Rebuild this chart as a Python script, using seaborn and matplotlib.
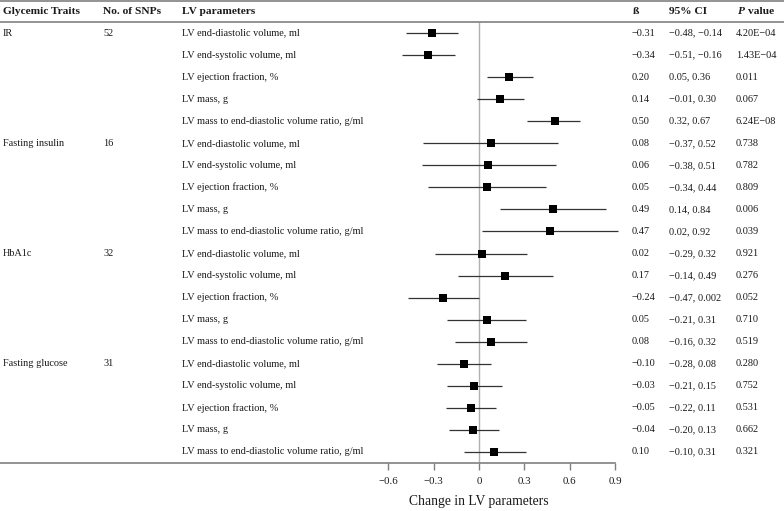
import seaborn as sns
import matplotlib.pyplot as plt
import pandas as pd

# data
traits = ['IR', 'Fasting insulin', 'HbA1c', 'Fasting glucose']
n_snps = ['52', '16', '32', '31']
lv_params = ['LV end-diastolic volume, ml',
             'LV end-systolic volume, ml',
             'LV ejection fraction, %',
             'LV mass, g',
             'LV mass to end-diastolic volume ratio, g/ml']

beta = [-0.31, -0.34, 0.20, 0.14, 0.50,
        0.08, 0.06, 0.05, 0.49, 0.47,
        0.02, 0.17, -0.24, 0.05, 0.08,
        -0.10, -0.03, -0.05, -0.04, 0.10]
ci_low = [-0.48, -0.51, 0.05, -0.01, 0.32,
          -0.37, -0.38, -0.34, 0.14, 0.02,
          -0.29, -0.14, -0.47, -0.21, -0.16,
          -0.28, -0.21, -0.22, -0.20, -0.10]
ci_high = [-0.14, -0.16, 0.36, 0.30, 0.67,
           0.52, 0.51, 0.44, 0.84, 0.92,
           0.32, 0.49, 0.002, 0.31, 0.32,
           0.08, 0.15, 0.11, 0.13, 0.31]
beta_txt = ['−0.31', '−0.34', '0.20', '0.14', '0.50',
            '0.08', '0.06', '0.05', '0.49', '0.47',
            '0.02', '0.17', '−0.24', '0.05', '0.08',
            '−0.10', '−0.03', '−0.05', '−0.04', '0.10']
ci_txt = ['−0.48, −0.14', '−0.51, −0.16', '0.05, 0.36', '−0.01, 0.30', '0.32, 0.67',
          '−0.37, 0.52', '−0.38, 0.51', '−0.34, 0.44', '0.14, 0.84', '0.02, 0.92',
          '−0.29, 0.32', '−0.14, 0.49', '−0.47, 0.002', '−0.21, 0.31', '−0.16, 0.32',
          '−0.28, 0.08', '−0.21, 0.15', '−0.22, 0.11', '−0.20, 0.13', '−0.10, 0.31']
p_txt = ['4.20E−04', '1.43E−04', '0.011', '0.067', '6.24E−08',
         '0.738', '0.782', '0.809', '0.006', '0.039',
         '0.921', '0.276', '0.052', '0.710', '0.519',
         '0.280', '0.752', '0.531', '0.662', '0.321']
xticks = [-0.6, -0.3, 0, 0.3, 0.6, 0.9]
xtick_labels = ['−0.6', '−0.3', '0', '0.3', '0.6', '0.9']

df = pd.DataFrame({
    'row': range(len(beta)),
    'beta': beta, 'lo': ci_low, 'hi': ci_high,
})

sns.set_theme(style='white')
plt.rcParams['font.family'] = ['Liberation Serif', 'DejaVu Serif']

W, H = 784, 511
fig = plt.figure(figsize=(W / 100, H / 100), dpi=100)
ax = fig.add_axes([0, 48 / H, 1, 463 / H])

px_unit = 151.3
zero_px = 479
ax.set_xlim(-zero_px / px_unit, (W - zero_px) / px_unit)
ax.set_ylim(19.5, -1.5)

txt_col = '#1a1a1a'
line_col = '#808080'

# zero line
ax.vlines(0, -0.5, 19.5, color='#b0b0b0', lw=1.0, zorder=1)
# CIs and estimates
ax.hlines(df['row'], df['lo'], df['hi'], color='#333333', lw=0.9, zorder=2)
sns.scatterplot(data=df, x='beta', y='row', marker='s', s=26, color='black',
                edgecolor='black', linewidth=0, ax=ax, zorder=3, legend=False)

# table rules
ax.hlines([-1.45, -0.5], ax.get_xlim()[0], ax.get_xlim()[1], color=line_col, lw=1.2,
          clip_on=False)

for s in ['top', 'right', 'left']:
    ax.spines[s].set_visible(False)
ax.spines['bottom'].set_color(line_col)
ax.spines['bottom'].set_linewidth(1.2)
ax.spines['bottom'].set_bounds(ax.get_xlim()[0], 0.9)
ax.set_xticks(xticks)
ax.set_xticklabels(xtick_labels, fontsize=7.8, color=txt_col)
ax.tick_params(axis='x', direction='out', length=5, width=1, color=line_col,
               pad=5, bottom=True)
ax.set_yticks([])
ax.set_xlabel('')
ax.set_ylabel('')

trans = ax.get_yaxis_transform()
fs = 7.4
hy = -0.97
hdr = dict(fontsize=8.2, fontweight='bold', va='center', ha='left', color=txt_col,
           transform=trans)
ax.text(3 / W, hy, 'Glycemic Traits', **hdr)
ax.text(103 / W, hy, 'No. of SNPs', **hdr)
ax.text(182 / W, hy, 'LV parameters', **hdr)
ax.text(633 / W, hy, 'ß', **hdr)
ax.text(669 / W, hy, '95% CI', **hdr)
ax.text(738 / W, hy, 'P', style='italic', **hdr)
ax.text(747.5 / W, hy, 'value', **hdr)

body = dict(fontsize=fs, va='center', ha='left', color=txt_col, transform=trans)
for g, (t, n) in enumerate(zip(traits, n_snps)):
    ax.text(3 / W, g * 5, t, **body)
    ax.text(103 / W, g * 5, n, **body)
for i in range(len(beta)):
    ax.text(182 / W, i, lv_params[i % 5], **body)
    ax.text(632 / W, i, beta_txt[i], **body)
    ax.text(669 / W, i, ci_txt[i], **body)
    ax.text(736 / W, i, p_txt[i], **body)

fig.text(zero_px / W, 1 - 501 / H, 'Change in LV parameters', fontsize=9.8,
         ha='center', va='center', color=txt_col)

fig.savefig('out.png', dpi=100)
